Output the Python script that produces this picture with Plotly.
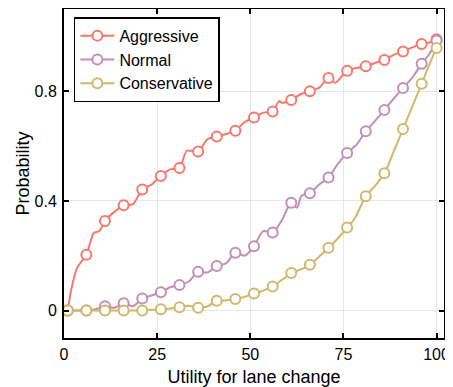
import plotly.graph_objects as go

# Marker positions (every 5th sample) and full sampled curves
x_markers = [1, 6, 11, 16, 21, 26, 31, 36, 41, 46, 51, 56, 61, 66, 71, 76, 81, 86, 91, 96, 100]

agg_x = [1, 2, 3.5, 6, 8, 9.5, 11, 13.5, 16, 18.5, 21, 23.5, 26, 28.5, 31, 33, 36, 38.5, 41, 43.5,
         46, 48.5, 51, 53.5, 56, 57.7, 58.5, 61, 63.5, 66, 68.5, 71, 72.8, 76, 78.5, 81, 83.5, 86,
         88.5, 91, 93.5, 96, 98, 100]
agg_y = [0.0, 0.08, 0.155, 0.204, 0.283, 0.29, 0.327, 0.36, 0.384, 0.388, 0.442, 0.46, 0.491, 0.515,
         0.52, 0.583, 0.58, 0.625, 0.635, 0.644, 0.656, 0.688, 0.704, 0.722, 0.726, 0.764, 0.758,
         0.768, 0.789, 0.80, 0.813, 0.848, 0.831, 0.875, 0.885, 0.891, 0.903, 0.914, 0.933, 0.945,
         0.96, 0.972, 0.978, 0.99]

nor_x = [1, 3.5, 6, 8.5, 11, 13.5, 16, 18.5, 21, 23.5, 26, 28.5, 31, 33.5, 36, 38.5, 41, 43.5, 46,
         48.5, 51, 53.5, 56, 58.5, 61, 62.5, 63.8, 66, 68.5, 71, 73.5, 76, 78.5, 81, 83.5, 86, 88.5,
         91, 93.5, 96, 98, 100]
nor_y = [0.0, 0.0, 0.0, 0.005, 0.016, 0.01, 0.027, 0.016, 0.044, 0.055, 0.067, 0.085, 0.093, 0.106,
         0.142, 0.139, 0.163, 0.172, 0.211, 0.2, 0.235, 0.29, 0.285, 0.33, 0.393, 0.375, 0.42, 0.428,
         0.46, 0.485, 0.535, 0.575, 0.605, 0.654, 0.692, 0.732, 0.773, 0.812, 0.85, 0.9, 0.935, 0.985]

con_x = [1, 3.5, 6, 8.5, 11, 13.5, 16, 18.5, 21, 23.5, 26, 28.5, 31, 33.5, 36, 38.5, 41, 43.5, 46,
         48.5, 51, 53.5, 56, 58.5, 61, 63.5, 66, 68.5, 71, 73.5, 76, 78, 81, 83.5, 86, 88.5, 91,
         93.5, 96, 98, 100]
con_y = [0.0, 0.0, 0.0, 0.0, 0.0, 0.0, 0.0, 0.0, 0.0, 0.003, 0.005, 0.008, 0.012, 0.018, 0.01, 0.015,
         0.036, 0.037, 0.042, 0.05, 0.062, 0.073, 0.088, 0.112, 0.137, 0.15, 0.167, 0.197, 0.229,
         0.263, 0.303, 0.335, 0.417, 0.455, 0.501, 0.58, 0.662, 0.745, 0.827, 0.895, 0.958]

series = [
    ("Aggressive", agg_x, agg_y, "#F8786B"),
    ("Normal", nor_x, nor_y, "#C48FB3"),
    ("Conservative", con_x, con_y, "#D2B76B"),
]

x_ticks = [0, 25, 50, 75, 100]
y_ticks = [0, 0.4, 0.8]
y_labels = ["0", "0.4", "0.8"]

fig = go.Figure()
for name, xs, ys, col in series:
    fig.add_trace(go.Scatter(x=xs, y=ys, mode="lines", line=dict(color=col, width=2, shape="spline", smoothing=0.8),
                             showlegend=False, hoverinfo="skip"))
    mx = [x for x in xs if x in x_markers]
    my = [y for x, y in zip(xs, ys) if x in x_markers]
    fig.add_trace(go.Scatter(x=mx, y=my, mode="markers",
                             marker=dict(symbol="circle", size=10, color="white", line=dict(color=col, width=2)),
                             showlegend=False))
for name, xs, ys, col in series:
    fig.add_trace(go.Scatter(x=[None], y=[None], mode="lines+markers", name=name,
                             line=dict(color=col, width=2),
                             marker=dict(symbol="circle", size=10, color="white", line=dict(color=col, width=2))))

axis_common = dict(showline=True, linecolor="black", linewidth=2, mirror="ticks", ticks="inside",
                   ticklen=5, tickwidth=1.5, tickcolor="black", showgrid=True, gridcolor="#E6E6E6",
                   gridwidth=1, zeroline=False, automargin=False, tickfont=dict(size=16, color="black"))

# page body has an 8px default margin, so the figure is offset by 8px
fig.update_layout(
    width=445, height=379,
    margin=dict(l=56, r=9, t=1, b=49),
    paper_bgcolor="white", plot_bgcolor="white",
    font=dict(family="Liberation Sans, Arial, sans-serif", color="black"),
    xaxis=dict(range=[0, 102], tickvals=x_ticks, ticktext=[str(t) for t in x_ticks],
               title=dict(text="Utility for lane change", font=dict(size=18), standoff=12),
               ticklabelstandoff=1, **axis_common),
    yaxis=dict(range=[-0.1, 1.1], tickvals=y_ticks, ticktext=y_labels,
               title=dict(text="Probability", font=dict(size=18), standoff=0),
               ticklabelstandoff=2, **axis_common),
    legend=dict(x=0.026, y=0.975, xanchor="left", yanchor="top", bordercolor="black", borderwidth=1.5,
                bgcolor="white", font=dict(size=16), tracegroupgap=0, itemwidth=34),
)

fig.write_html("out.html")
